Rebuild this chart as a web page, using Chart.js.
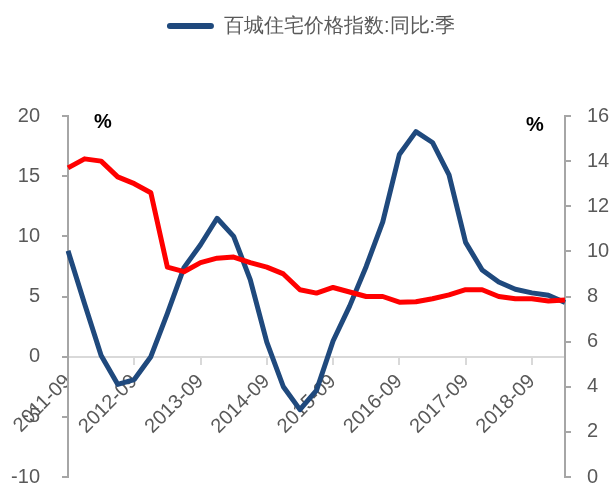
<!DOCTYPE html>
<html>
<head>
<meta charset="utf-8">
<script src="https://cdn.jsdelivr.net/npm/chart.js@4/dist/chart.umd.min.js"></script>
<style>
  html, body { margin: 0; padding: 0; background: #fff; }
  #wrap { width: 614px; height: 486px; }
</style>
</head>
<body>
<div id="wrap"><canvas id="myChart"></canvas></div>
<script>
const quarters = [
  '2011-09', '2011-12', '2012-03', '2012-06', '2012-09', '2012-12', '2013-03', '2013-06',
  '2013-09', '2013-12', '2014-03', '2014-06', '2014-09', '2014-12', '2015-03', '2015-06',
  '2015-09', '2015-12', '2016-03', '2016-06', '2016-09', '2016-12', '2017-03', '2017-06',
  '2017-09', '2017-12', '2018-03', '2018-06', '2018-09', '2018-12', '2019-03'
];
// left axis
const priceIndexYoY = [
  8.8, 4.4, 0.1, -2.3, -1.9, 0.0, 3.6, 7.4,
  9.3, 11.5, 10.0, 6.4, 1.2, -2.5, -4.4, -2.8,
  1.3, 4.2, 7.5, 11.2, 16.8, 18.7, 17.8, 15.1,
  9.5, 7.2, 6.2, 5.6, 5.3, 5.1, 4.5
];
// right axis
const rightSeries = [
  13.7, 14.1, 14.0, 13.3, 13.0, 12.6, 9.3, 9.1,
  9.5, 9.7, 9.75, 9.5, 9.3, 9.0, 8.3, 8.15,
  8.4, 8.2, 8.0, 8.0, 7.75, 7.77, 7.9, 8.07,
  8.3, 8.3, 8.0, 7.9, 7.9, 7.8, 7.85
];
const yearTicks = ['2011-09', '2012-09', '2013-09', '2014-09', '2015-09', '2016-09', '2017-09', '2018-09'];

const blue = '#1F497D';
const red = '#FF0000';
const tickGray = '#595959';
const font = { family: '"Liberation Sans", Arial, sans-serif', size: 20 };

const percentLabels = {
  id: 'percentLabels',
  afterDraw(chart) {
    const { ctx, chartArea } = chart;
    ctx.save();
    ctx.font = 'bold 20px "Liberation Sans", Arial, sans-serif';
    ctx.fillStyle = '#000';
    ctx.textBaseline = 'middle';
    ctx.textAlign = 'center';
    ctx.fillText('%', chartArea.left + 35, chartArea.top + 6);
    ctx.fillText('%', chartArea.right - 30, chartArea.top + 9);
    ctx.restore();
  }
};

// extra room under the legend
const legendSpacing = {
  id: 'legendSpacing',
  beforeInit(chart) {
    const fit = chart.legend.fit;
    chart.legend.fit = function () {
      fit.bind(chart.legend)();
      this.height += 70;
    };
  }
};

const fixAxis = w => s => {
  s.width = w;
  s.paddingTop = 0;
  s.paddingBottom = 0;
  s.paddingLeft = 0;
  s.paddingRight = 0;
};

const ctx = document.getElementById('myChart').getContext('2d');
const chart = new Chart(ctx, {
  type: 'line',
  data: {
    labels: quarters,
    datasets: [{
      label: '百城住宅价格指数:同比:季',
      data: priceIndexYoY,
      borderColor: blue,
      backgroundColor: blue,
      borderWidth: 5,
      pointRadius: 0,
      tension: 0,
      borderJoinStyle: 'round',
      yAxisID: 'y',
      order: 1
    }, {
      label: '右轴',
      data: rightSeries,
      borderColor: red,
      backgroundColor: red,
      borderWidth: 5,
      pointRadius: 0,
      tension: 0,
      borderJoinStyle: 'round',
      yAxisID: 'y2',
      order: 0
    }]
  },
  options: {
    responsive: true,
    maintainAspectRatio: false,
    animation: false,
    layout: { padding: { left: 10, right: 2, top: 6, bottom: 9 } },
    plugins: {
      tooltip: { enabled: false },
      legend: {
        position: 'top',
        labels: {
          filter: item => item.datasetIndex === 0,
          boxWidth: 47,
          boxHeight: 6,
          useBorderRadius: true,
          borderRadius: 3,
          color: tickGray,
          font: font,
          padding: 10,
          generateLabels: c => c.data.datasets.map((ds, i) => ({
            text: ds.label,
            fillStyle: ds.borderColor,
            strokeStyle: ds.borderColor,
            lineWidth: 0,
            fontColor: tickGray,
            datasetIndex: i,
            borderRadius: 3
          }))
        }
      }
    },
    scales: {
      x: {
        position: { y: 0 },
        offset: false,
        afterFit: s => {
          s.height = 0;
          s.paddingLeft = 0;
          s.paddingRight = 0;
        },
        border: { display: true, color: '#D9D9D9', width: 2 },
        grid: {
          drawOnChartArea: false,
          drawTicks: true,
          tickLength: 7,
          lineWidth: 2,
          color: c => (c.tick && yearTicks.includes(quarters[c.index]) ? '#D9D9D9' : 'rgba(0,0,0,0)')
        },
        ticks: {
          autoSkip: false,
          maxRotation: 45,
          minRotation: 45,
          color: tickGray,
          font: font,
          padding: 6,
          callback: function (value, index) {
            const label = quarters[index];
            return yearTicks.includes(label) ? label : '';
          }
        }
      },
      y: {
        position: 'left',
        min: -10,
        max: 20,
        afterFit: fixAxis(58),
        border: { display: true, color: '#A6A6A6', width: 2 },
        grid: {
          drawOnChartArea: false,
          drawTicks: true,
          tickLength: 6,
          color: '#A6A6A6',
          lineWidth: 2
        },
        ticks: { stepSize: 5, color: tickGray, font: font, padding: 22 }
      },
      y2: {
        position: 'right',
        min: 0,
        max: 16,
        afterFit: fixAxis(47),
        border: { display: true, color: '#A6A6A6', width: 2 },
        grid: {
          drawOnChartArea: false,
          drawTicks: true,
          tickLength: 6,
          color: '#A6A6A6',
          lineWidth: 2
        },
        ticks: { stepSize: 2, color: tickGray, font: font, padding: 16 }
      }
    }
  },
  plugins: [percentLabels, legendSpacing]
});
</script>
</body>
</html>
